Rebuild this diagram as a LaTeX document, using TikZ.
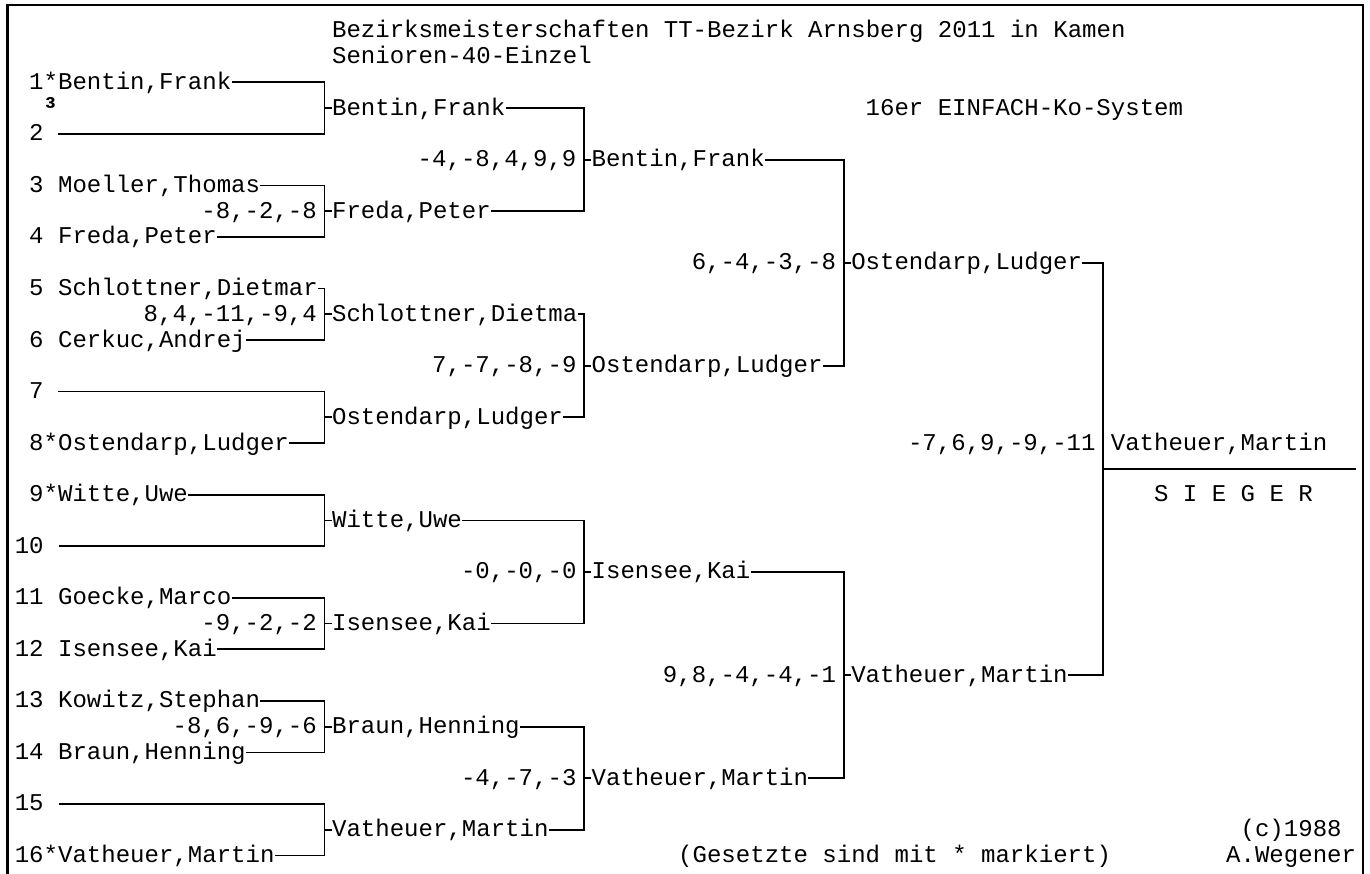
\documentclass[tikz,border=0pt]{standalone}
\usepackage{fontspec}
\newfontfamily\bracketfont{Liberation Mono}
\usetikzlibrary{positioning}

\begin{document}
\begin{tikzpicture}[
		x=7.21pt, y=-12.885pt,
		every entry/.style={inner sep=0pt, text height=9pt, text depth=2pt, font={\bracketfont\fontsize{12.02pt}{14pt}\selectfont}},
		entry/.style={every entry, anchor=west},
		score/.style={every entry, anchor=east},
		bracket/.style={line width=0.9pt},
		frame/.style={line width=1.3pt}
	]

	\useasboundingbox (0,-0.194) rectangle (95,33.68);
	\draw [frame] (0.5,34) -- (0.5,0) -- (94.5,0) -- (94.5,34);

	% head
	\node [entry] (title) at (23,1) {Bezirksmeisterschaften TT-Bezirk Arnsberg 2011 in Kamen};
	\node [entry] (class) at (23,2) {Senioren-40-Einzel};
	\node [entry] (system) at (60,4) {16er EINFACH-Ko-System};

	% players (a free place keeps one blank column before its line)
	\foreach \c/\t [count=\i] in {2/{1*Bentin,Frank}, 2/{2\hphantom{0}}, 2/{3 Moeller,Thomas}, 2/{4 Freda,Peter},
			2/{5 Schlottner,Dietmar}, 2/{6 Cerkuc,Andrej}, 2/{7\hphantom{0}}, 2/{8*Ostendarp,Ludger},
			2/{9*Witte,Uwe}, 1/{10\hphantom{0}}, 1/{11 Goecke,Marco}, 1/{12 Isensee,Kai},
			1/{13 Kowitz,Stephan}, 1/{14 Braun,Henning}, 1/{15\hphantom{0}}, 1/{16*Vatheuer,Martin}}
		\node [entry] (player-\i) at (\c, 2*\i+1) {\t};
	\node [every entry, anchor=center, font={\bracketfont\bfseries\fontsize{13pt}{14pt}\selectfont}] (mark) at (3.5,4) {³};

	% rounds
	\foreach \t [count=\i] in {{Bentin,Frank}, {Freda,Peter}, {Schlottner,Dietma}, {Ostendarp,Ludger},
			{Witte,Uwe}, {Isensee,Kai}, {Braun,Henning}, {Vatheuer,Martin}}
		\node [entry] (first-\i) at (23, 4*\i) {\t};
	\foreach \i/\s in {2/{-8,-2,-8}, 3/{8,4,-11,-9,4}, 6/{-9,-2,-2}, 7/{-8,6,-9,-6}}
		\node [score] (first-score-\i) at (22, 4*\i) {\s};

	\foreach \t/\s [count=\i] in {{Bentin,Frank}/{-4,-8,4,9,9}, {Ostendarp,Ludger}/{7,-7,-8,-9},
			{Isensee,Kai}/{-0,-0,-0}, {Vatheuer,Martin}/{-4,-7,-3}} {
		\node [entry] (second-\i) at (41, 8*\i-2) {\t};
		\node [score] (second-score-\i) at (40, 8*\i-2) {\s};
	}

	\foreach \t/\s [count=\i] in {{Ostendarp,Ludger}/{6,-4,-3,-8}, {Vatheuer,Martin}/{9,8,-4,-4,-1}} {
		\node [entry] (third-\i) at (59, 16*\i-6) {\t};
		\node [score] (third-score-\i) at (58, 16*\i-6) {\s};
	}

	\node [entry] (champion) at (77,17) {Vatheuer,Martin};
	\node [score] (final-score) at (76,17) {-7,6,9,-9,-11};
	\node [entry] (sieger) at (80,19) {S I E G E R};

	% foot
	\node [entry] (seeded) at (47,33) {(Gesetzte sind mit * markiert)};
	\node [entry] (year) at (86,32) {(c)1988};
	\node [entry] (author) at (85,33) {A.Wegener};

	% brackets
	\foreach \i [evaluate=\i as \a using int(2*\i-1), evaluate=\i as \b using int(2*\i)] in {1,...,8} {
		\draw [bracket] (player-\a.east) -| ([xshift=-3.6pt]first-\i.west) |- (player-\b.east);
		\draw [bracket] ([xshift=-3.6pt]first-\i.west) -- (first-\i.west);
	}
	\foreach \i [evaluate=\i as \a using int(2*\i-1), evaluate=\i as \b using int(2*\i)] in {1,...,4} {
		\draw [bracket] (first-\a.east) -| ([xshift=-3.6pt]second-\i.west) |- (first-\b.east);
		\draw [bracket] ([xshift=-3.6pt]second-\i.west) -- (second-\i.west);
	}
	\foreach \i [evaluate=\i as \a using int(2*\i-1), evaluate=\i as \b using int(2*\i)] in {1,...,2} {
		\draw [bracket] (second-\a.east) -| ([xshift=-3.6pt]third-\i.west) |- (second-\b.east);
		\draw [bracket] ([xshift=-3.6pt]third-\i.west) -- (third-\i.west);
	}

	\coordinate (final-x) at ([xshift=-3.6pt]champion.west);
	\coordinate (line-end) at (94,18);
	\draw [bracket] (third-1.east) -| (final-x) |- (third-2.east);
	\draw [bracket] (final-x |- line-end) -- (line-end);
\end{tikzpicture}
\end{document}
